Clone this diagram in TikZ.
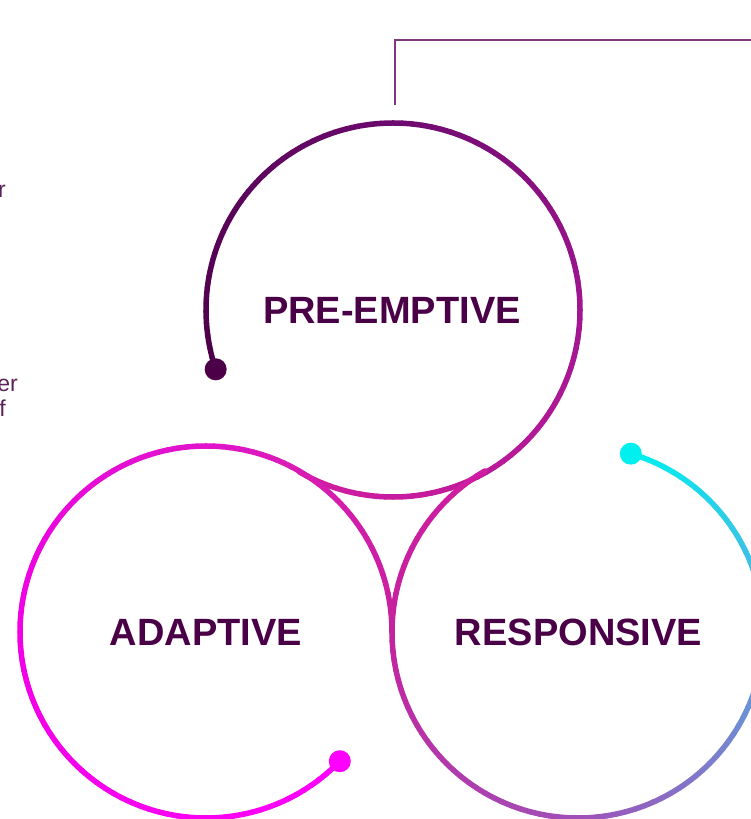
\documentclass[tikz,border=0pt]{standalone}
\usepackage{fontspec}
\setmainfont{Liberation Sans}
\usetikzlibrary{calc}

% palette
\definecolor{ink}{HTML}{4A0046}
\definecolor{bodyink}{HTML}{5A2258}
\definecolor{rule}{HTML}{7B3A7B}
\definecolor{plumA}{HTML}{4B0048}
\definecolor{plumB}{HTML}{6C0A6E}
\definecolor{plumC}{HTML}{A01690}
\definecolor{plumD}{HTML}{C81C9E}
\definecolor{joint}{HTML}{D01CA2}
\definecolor{magA}{HTML}{FF00FF}
\definecolor{magB}{HTML}{FA00F2}
\definecolor{magC}{HTML}{F000E6}
\definecolor{magD}{HTML}{E014CC}
\definecolor{magE}{HTML}{D81CB4}
\definecolor{magF}{HTML}{C8209C}
\definecolor{resA}{HTML}{C4229E}
\definecolor{resB}{HTML}{A050B8}
\definecolor{resC}{HTML}{5AA8DE}
\definecolor{resD}{HTML}{00F0F0}

\tikzset{
  ring/.style={line width=5.5pt, line cap=round},
  knob/.style={circle, inner sep=0pt, minimum size=22pt},
  label/.style={font=\bfseries\fontsize{38}{42}\selectfont, text=ink, inner sep=0pt},
  fragment/.style={font=\fontsize{23}{25}\selectfont, text=bodyink, inner sep=0pt, anchor=base east},
}

% arc around (#1,#2) of radius #3 from angle #4 to #5,
% shaded from colour #6 to colour #7 in #8 pieces
\newcommand\gradarc[8]{%
  \foreach \k in {1,...,#8}{%
    \pgfmathsetmacro\ta{#4+(#5-#4)*(\k-1)/#8}%
    \pgfmathsetmacro\tb{#4+(#5-#4)*\k/#8}%
    \pgfmathsetmacro\pc{100*(\k-0.5)/#8}%
    \draw[ring, draw=#7!\pc!#6] ($(#1,#2)+(\ta:#3)$) arc[start angle=\ta, end angle=\tb, radius=#3pt];
  }%
}

\begin{document}
\begin{tikzpicture}[x=1pt,y=1pt]
\useasboundingbox (0,0) rectangle (751,819);
\clip (0,0) rectangle (751,819);

% ring centres
\coordinate (ctop) at (393,509);
\coordinate (cleft) at (206,187);
\coordinate (cright) at (578,187);

% bracket line at the top
\coordinate (b1) at (395,714);
\coordinate (b2) at (395,779);
\coordinate (b3) at (760,779);
\draw[rule, line width=1.5pt] (b1) -- (b2) -- (b3);

% top ring
\gradarc{393}{509}{187}{-161.5}{-270}{plumA}{plumB}{30}
\gradarc{393}{509}{187}{-270}{-360}{plumB}{plumC}{30}
\gradarc{393}{509}{187}{-360}{-450}{plumC}{plumD}{30}
\gradarc{393}{509}{187}{-450}{-480}{plumD}{joint}{12}

% left ring
\gradarc{206}{187}{186}{-44}{-90}{magA}{magB}{16}
\gradarc{206}{187}{186}{-90}{-180}{magB}{magC}{30}
\gradarc{206}{187}{186}{-180}{-270}{magC}{magD}{30}
\gradarc{206}{187}{186}{-270}{-300}{magD}{magE}{12}
\gradarc{206}{187}{186}{-300}{-360}{magE}{magF}{20}

% right ring
\gradarc{578}{187}{186}{120}{180}{joint}{resA}{20}
\gradarc{578}{187}{186}{180}{270}{resA}{resB}{30}
\gradarc{578}{187}{186}{270}{360}{resB}{resC}{30}
\gradarc{578}{187}{186}{360}{433.5}{resC}{resD}{26}

% end knobs
\node[knob, fill=plumA] (ktop) at ($(ctop)+(-161.5:187)$) {};
\node[knob, fill=magA] (kleft) at ($(cleft)+(-44:186)$) {};
\node[knob, fill=resD] (kright) at ($(cright)+(73.5:186)$) {};

% ring titles
\node[label] (tpre) at (392,509) {PRE-EMPTIVE};
\node[label] (tada) at (206,187) {ADAPTIVE};
\node[label] (tres) at (578.5,187) {RESPONSIVE};

% ends of body text lines
\node[fragment] (f1) at (6,621) {r};
\node[fragment] (f2) at (18,427) {er};
\node[fragment] (f3) at (6,402) {f};
\end{tikzpicture}
\end{document}
